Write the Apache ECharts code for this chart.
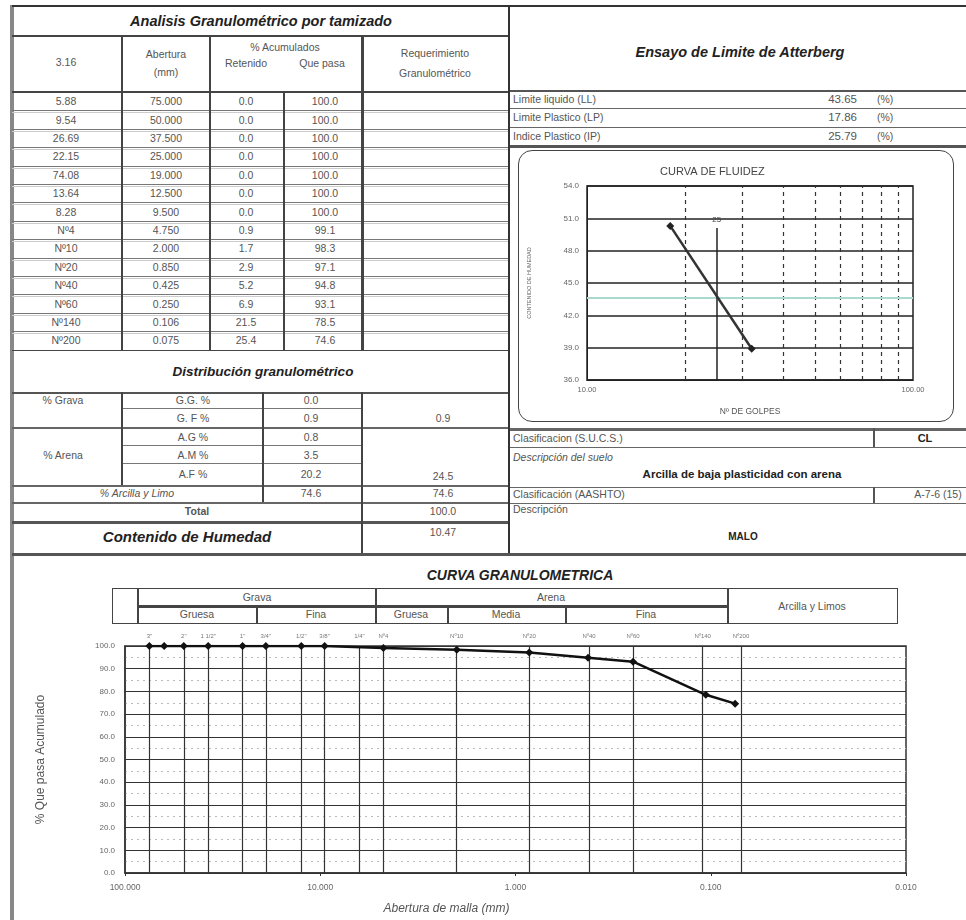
<!DOCTYPE html>
<html><head><meta charset="utf-8">
<script src="https://cdn.jsdelivr.net/npm/echarts@6.0.0/dist/echarts.min.js"></script>
<style>
html,body{margin:0;padding:0;background:#fff;}
#page{position:relative;width:966px;height:920px;overflow:hidden;font-family:"Liberation Sans",Arial,sans-serif;background:#fff;}
#page div{box-sizing:border-box;}
</style>
</head><body>
<div id="page">
  <div id="fluidez" style="position:absolute;left:518px;top:150px;width:436px;height:272px;z-index:2;"></div>
  <div id="granulo" style="position:absolute;left:0px;top:560px;width:966px;height:360px;z-index:2;"></div>
</div>
<script>
// ---------- DATA ----------
const sieveNames = ['5.88','9.54','26.69','22.15','74.08','13.64','8.28','Nº4','Nº10','Nº20','Nº40','Nº60','Nº140','Nº200'];
const openings = [75.000,50.000,37.500,25.000,19.000,12.500,9.500,4.750,2.000,0.850,0.425,0.250,0.106,0.075];
const retained = [0.0,0.0,0.0,0.0,0.0,0.0,0.0,0.9,1.7,2.9,5.2,6.9,21.5,25.4];
const passing = [100.0,100.0,100.0,100.0,100.0,100.0,100.0,99.1,98.3,97.1,94.8,93.1,78.5,74.6];

const distLabels = ['G.G. %','G. F %','A.G %','A.M %','A.F %'];
const distValues = [0.0,0.9,0.8,3.5,20.2];
const gravaTotal = 0.9, arenaTotal = 24.5, finesPct = 74.6, finesTotal = 74.6, grandTotal = 100.0;
const humedad = 10.47;

const limitLabels = ['Limite liquido (LL)','Limite Plastico (LP)','Indice Plastico (IP)'];
const limitValues = [43.65,17.86,25.79];

const blows = [18,32];
const moisture = [50.3,38.9];
const blowGrid = [20,30,40,50,60,70,80,90];

const curveOpenings = [75,63,50,37.5,25,19,12.5,9.5,4.75,2.0,0.85,0.425,0.25,0.106,0.075];
const curvePassing = [100,100,100,100,100,100,100,100,99.1,98.3,97.1,94.8,93.1,78.5,74.6];
const gridSieves = [75,50,37.5,25,19,12.5,9.5,6.3,4.75,2.0,0.85,0.425,0.25,0.106,0.075];
const gridSieveLabels = ['3"','2"','1 1/2"','1"','3/4"','1/2"','3/8"','1/4"','Nº4','Nº10','Nº20','Nº40','Nº60','Nº140','Nº200'];

// ---------- PAGE DRAWING HELPERS ----------
const root = document.getElementById('page');
function el(css, text){const d=document.createElement('div');d.style.cssText='position:absolute;'+css;if(text!==undefined)d.textContent=text;root.appendChild(d);return d;}
function H(x1,x2,y,t,c){el(`left:${x1}px;top:${y}px;width:${x2-x1}px;height:${t||1}px;background:${c||'#555'}`);}
function V(x,y1,y2,t,c){el(`left:${x}px;top:${y1}px;width:${t||1}px;height:${y2-y1}px;background:${c||'#555'}`);}
function T(cx,cy,text,o){o=o||{};const a=o.align||'center';
  let css=`top:${cy-10}px;height:20px;line-height:20px;white-space:nowrap;font-size:${o.size||10.5}px;color:${o.color||'#555'};font-weight:${o.bold?'bold':'normal'};font-style:${o.italic?'italic':'normal'};`;
  if(a==='center')css+=`left:${cx-200}px;width:400px;text-align:center;`;
  else if(a==='left')css+=`left:${cx}px;`;
  else css+=`left:${cx-400}px;width:400px;text-align:right;`;
  el(css,text);}

// outer frame
V(10,5,920,4,'#888');
H(12,966,5,2,'#333');
V(508,5,555,2,'#333');
H(12,966,553,3,'#555');

// ---- left: sieve table ----
T(261,21,'Analisis Granulométrico por tamizado',{size:14.5,bold:true,italic:true,color:'#222'});
H(12,508,35,2,'#444');
T(66,62,'3.16');
T(166,54,'Abertura');T(166,72,'(mm)');
T(285,47,'% Acumulados');T(246,63,'Retenido');T(322,63,'Que pasa');
T(435,53,'Requerimiento');T(435,73,'Granulométrico');
H(12,508,91,2,'#444');
const rowTop=92, rowH=18.4;
for(let i=0;i<sieveNames.length;i++){
  const cy=rowTop+rowH*i+rowH/2;
  T(66,cy,sieveNames[i]);
  T(166,cy,openings[i].toFixed(3));
  T(246,cy,retained[i].toFixed(1));
  T(325,cy,passing[i].toFixed(1));
  if(i>0){H(12,508,rowTop+rowH*i,1,'#777');H(12,508,rowTop+rowH*i+2,1,'#ccc');}
}
const tEnd=rowTop+rowH*sieveNames.length;
V(121,36,tEnd,1.5,'#444');V(209,36,tEnd,1.5,'#444');V(283,91,tEnd,1.5,'#444');V(361,36,tEnd,2.5,'#444');
H(12,508,tEnd,1.5,'#444');

// ---- distribution ----
T(263,372,'Distribución granulométrico',{size:13.5,bold:true,italic:true,color:'#222'});
H(12,508,392,1.5,'#555');
const distY=[400,418,437,455,474];
for(let i=0;i<distLabels.length;i++){T(193,distY[i],distLabels[i]);T(311,distY[i],distValues[i].toFixed(1));}
T(63,400,'% Grava');T(63,455,'% Arena');
T(443,418,gravaTotal.toFixed(1));T(443,476,arenaTotal.toFixed(1));
T(137,493,'% Arcilla y Limo',{italic:true});T(311,493,finesPct.toFixed(1));T(443,493,finesTotal.toFixed(1));
T(197,511,'Total',{bold:true});T(443,511,grandTotal.toFixed(1));
T(187,537,'Contenido de Humedad',{size:15,bold:true,italic:true,color:'#222'});T(443,532,humedad.toFixed(2));
H(121,362,408,1,'#777');H(12,508,427,1.5,'#666');H(121,362,445,1,'#777');H(121,362,463,1,'#777');
H(12,508,485,1.5,'#666');H(12,508,502,1.5,'#666');H(12,508,521,3,'#555');
V(121,392,485,1.5,'#444');V(262,392,502,1.5,'#444');V(361,392,553,2,'#444');

// ---- right: Atterberg ----
T(740,52,'Ensayo de Limite de Atterberg',{size:14.5,bold:true,italic:true,color:'#222'});
H(510,966,90,1.5,'#555');
const limY=[99,117,136];
for(let i=0;i<limitLabels.length;i++){T(513,limY[i],limitLabels[i],{align:'left'});T(857,limY[i],limitValues[i].toFixed(2),{align:'right',size:11.5});T(877,limY[i],'(%)',{align:'left'});}
H(510,966,108,1,'#666');H(510,966,127,1,'#666');H(510,966,145,2.5,'#555');
el('left:518px;top:150px;width:436px;height:272px;border:1.5px solid #444;border-radius:14px;');
H(510,966,428,3,'#666');
T(513,438,'Clasificacion (S.U.C.S.)',{align:'left'});T(925,438,'CL',{bold:true,size:11,color:'#222'});
V(873,428,447,1.5,'#555');
H(510,966,447,1,'#666');
T(513,457,'Descripción del suelo',{align:'left',italic:true});
T(742,474,'Arcilla de baja plasticidad con arena',{bold:true,size:11.5,color:'#222'});
H(510,966,487,1,'#666');
T(513,494,'Clasificación (AASHTO)',{align:'left'});T(938,494,'A-7-6 (15)');
V(873,487,503,1.5,'#555');
H(510,966,503,1,'#666');
T(513,509,'Descripción',{align:'left'});
T(743,537,'MALO',{bold:true,size:10,color:'#222'});

// ---- bottom header band ----
T(520,575,'CURVA GRANULOMETRICA',{size:14,bold:true,italic:true,color:'#222'});
el('left:112px;top:588px;width:786px;height:36px;border:1.5px solid #444;');
V(137,588,624,1.5,'#444');H(137,727,605,2.5,'#444');
V(375,588,624,1.5,'#444');V(727,588,624,2,'#444');
V(256,605,624,2,'#444');V(447,605,624,1.5,'#444');V(565,605,624,1.5,'#444');
T(257,597,'Grava');T(197,614,'Gruesa');T(316,614,'Fina');
T(551,597,'Arena');T(411,614,'Gruesa');T(506,614,'Media');T(646,614,'Fina');
T(812,606,'Arcilla y Limos');

// ---------- CHART: CURVA DE FLUIDEZ ----------
const fc = echarts.init(document.getElementById('fluidez'),null,{renderer:'canvas'});
fc.setOption({
  animation:false,
  title:{text:'CURVA DE FLUIDEZ',left:137,top:11,textStyle:{fontSize:11,fontWeight:'normal',color:'#444',fontFamily:'Liberation Sans'}},
  grid:{left:65,right:41,top:36,bottom:42,show:true,borderColor:'#222',borderWidth:1.5},
  xAxis:{type:'log',logBase:10,min:10,max:100,name:'Nº DE GOLPES',nameLocation:'middle',nameGap:27,
    nameTextStyle:{fontSize:8.5,color:'#555'},
    axisLine:{lineStyle:{color:'#222'}},axisTick:{show:false},splitLine:{show:false},
    axisLabel:{fontSize:7.5,color:'#666',formatter:v=>v.toFixed(2),margin:6}},
  yAxis:{type:'value',min:36,max:54,interval:3,name:'CONTENIDO DE HUMEDAD',nameLocation:'middle',nameGap:55,
    nameTextStyle:{fontSize:5.5,color:'#666'},
    axisLine:{show:true,lineStyle:{color:'#222'}},axisTick:{show:false},
    splitLine:{lineStyle:{color:'#222',width:1.5}},
    axisLabel:{fontSize:8,color:'#666',formatter:v=>v.toFixed(1),margin:8}},
  series:[{type:'line',data:blows.map((b,i)=>[b,moisture[i]]),symbol:'diamond',symbolSize:8,
    itemStyle:{color:'#222'},lineStyle:{color:'#333',width:2.5},z:5,
    markLine:{silent:true,symbol:['none','none'],animation:false,
      data:[
        ...blowGrid.map(v=>({xAxis:v,lineStyle:{color:'#333',type:[4,4],width:1.2},label:{show:false}})),
        {yAxis:limitValues[0],lineStyle:{color:'#a9d9cf',type:'solid',width:2},label:{show:false}},
        [{coord:[25,36],lineStyle:{color:'#222',type:'solid',width:1.5},label:{show:true,position:'end',formatter:'25',fontSize:8,color:'#444',distance:4}},
         {coord:[25,50.1]}]
      ]}
  }]
});

// ---------- CHART: CURVA GRANULOMETRICA ----------
const gc = echarts.init(document.getElementById('granulo'),null,{renderer:'canvas'});
gc.setOption({
  animation:false,
  grid:{left:125,right:60,top:86,bottom:45,show:true,borderColor:'#333',borderWidth:1.5},
  xAxis:{type:'log',logBase:10,min:0.01,max:100,inverse:true,splitNumber:4,
    name:'Abertura de malla (mm)',nameLocation:'middle',nameGap:30,
    nameTextStyle:{fontSize:12,fontStyle:'italic',color:'#555',padding:[0,138,0,0]},
    axisLine:{lineStyle:{color:'#333',width:1.5}},axisTick:{show:true,length:3,lineStyle:{color:'#333'}},
    splitLine:{show:false},
    axisLabel:{fontSize:8.5,color:'#666',formatter:v=>v.toFixed(3),margin:10}},
  yAxis:{type:'value',min:0,max:100,interval:10,
    name:'% Que pasa Acumulado',nameLocation:'middle',nameGap:78,nameRotate:90,
    nameTextStyle:{fontSize:12,color:'#555'},
    axisLine:{show:true,lineStyle:{color:'#333',width:1.5}},axisTick:{show:false},
    splitLine:{lineStyle:{color:'#333',width:1.2}},
    minorTick:{show:false,splitNumber:2},
    minorSplitLine:{show:true,lineStyle:{color:'#bbb',type:[2,4],width:1}},
    axisLabel:{fontSize:8,color:'#666',formatter:v=>v.toFixed(1),margin:10}},
  series:[{type:'line',data:curveOpenings.map((o,i)=>[o,curvePassing[i]]),
    symbol:'diamond',symbolSize:8,itemStyle:{color:'#111'},lineStyle:{color:'#111',width:2.5},z:5,
    markLine:{silent:true,symbol:['none','none'],animation:false,
      lineStyle:{color:'#333',type:'solid',width:1.2},
      label:{show:true,position:'end',formatter:'{b}',fontSize:6,color:'#777',distance:7},
      data:gridSieves.map((v,i)=>({xAxis:v,name:gridSieveLabels[i]}))}
  }]
});
</script>
</body></html>
